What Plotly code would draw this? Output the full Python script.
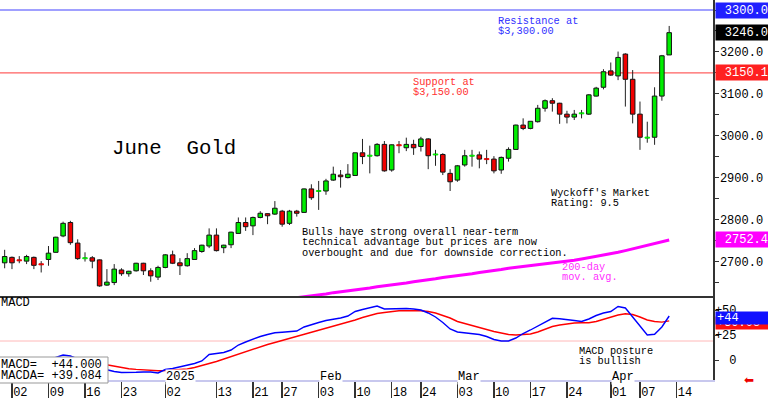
import plotly.graph_objects as go
import pandas as pd

W, H = 768, 399
FONT = "Liberation Mono"

# ---------------- data ----------------
holidays = ["2024-12-25", "2025-01-01", "2025-01-20", "2025-02-17"]
dates = [d.strftime("%Y-%m-%d") for d in pd.bdate_range("2024-11-29", "2025-04-11")
         if d.strftime("%Y-%m-%d") not in holidays]
next_session = "2025-04-14"

opens = [2698, 2711, 2705, 2702, 2711, 2695, 2706, 2723, 2762, 2794,
         2745, 2708, 2710, 2705, 2645, 2651, 2681, 2672, 2679, 2697,
         2679, 2664, 2687, 2717, 2698, 2691, 2706, 2725, 2738, 2764,
         2734, 2741, 2768, 2794, 2786, 2806, 2815, 2814, 2821, 2792,
         2821, 2818, 2874, 2868, 2869, 2895, 2907, 2901, 2906, 2960,
         2952, 2953, 2980, 2919, 2979, 2972, 2980, 2975, 2993, 2955,
         2956, 2911, 2895, 2931, 2952, 2955, 2946, 2945, 2919, 2947,
         2968, 3026, 3018, 3034, 3066, 3084, 3078, 3052, 3045, 3053,
         3052, 3095, 3116, 3155, 3143, 3195, 3135, 3052, 2995, 2997,
         3095, 3193]
highs = [2729, 2713, 2714, 2717, 2713, 2702, 2738, 2760, 2796, 2798,
         2754, 2723, 2714, 2706, 2683, 2695, 2685, 2679, 2698, 2698,
         2685, 2691, 2719, 2727, 2709, 2721, 2733, 2741, 2780, 2780,
         2741, 2772, 2806, 2806, 2808, 2821, 2816, 2845, 2824, 2824,
         2824, 2875, 2885, 2893, 2898, 2927, 2919, 2933, 2960, 2993,
         2977, 2983, 2988, 2980, 2988, 2996, 2991, 2998, 2995, 2967,
         2959, 2921, 2931, 2967, 2967, 2963, 2967, 2952, 2951, 2973,
         3027, 3042, 3035, 3074, 3087, 3090, 3079, 3060, 3062, 3062,
         3100, 3117, 3159, 3175, 3201, 3197, 3157, 3082, 3034, 3116,
         3193, 3262]
lows = [2685, 2683, 2697, 2695, 2683, 2675, 2691, 2722, 2759, 2741,
        2705, 2701, 2685, 2641, 2643, 2645, 2667, 2665, 2677, 2669,
        2653, 2657, 2685, 2695, 2669, 2689, 2705, 2722, 2733, 2725,
        2721, 2733, 2767, 2774, 2764, 2804, 2790, 2812, 2784, 2788,
        2808, 2817, 2848, 2824, 2860, 2893, 2877, 2899, 2905, 2933,
        2911, 2951, 2915, 2915, 2959, 2964, 2955, 2963, 2921, 2929,
        2907, 2869, 2891, 2927, 2927, 2923, 2933, 2911, 2910, 2939,
        2967, 3014, 3016, 3032, 3058, 3058, 3029, 3030, 3038, 3042,
        3050, 3094, 3111, 3143, 3133, 3070, 3030, 2967, 2984, 2979,
        3084, 3193]
closes = [2713, 2698, 2703, 2713, 2692, 2694, 2721, 2759, 2792, 2746,
          2708, 2710, 2702, 2643, 2652, 2683, 2672, 2678, 2697, 2679,
          2667, 2687, 2717, 2697, 2691, 2708, 2727, 2740, 2764, 2727,
          2740, 2771, 2794, 2784, 2806, 2816, 2810, 2828, 2790, 2821,
          2816, 2874, 2853, 2870, 2893, 2909, 2903, 2909, 2960, 2951,
          2954, 2980, 2917, 2979, 2977, 2980, 2972, 2993, 2953, 2957,
          2914, 2891, 2929, 2953, 2954, 2945, 2944, 2917, 2949, 2968,
          3026, 3018, 3035, 3066, 3084, 3078, 3052, 3045, 3052, 3055,
          3098, 3114, 3153, 3145, 3187, 3135, 3052, 2997, 2997, 3095,
          3191, 3246.0]

ma_first = 40  # 200-day average values from dates[40] onward
ma200 = [2615, 2617, 2620, 2622, 2624, 2627, 2629, 2631, 2634, 2636,
         2638, 2641, 2643, 2645, 2648, 2650, 2653, 2655, 2658, 2660,
         2663, 2665, 2668, 2670, 2672, 2675, 2677, 2680, 2682, 2685,
         2687, 2689, 2691, 2693, 2695, 2697, 2699, 2702, 2704, 2707,
         2710, 2713, 2716, 2719, 2723, 2727, 2731, 2735, 2739, 2743,
         2748, 2752.4]

macd = [-5, -3, -2, -1, -1, -2, 0, 2.5, 5, 4,
        1, -3, -6, -8, -10, -11.5, -12.5, -12.7, -12.3, -12,
        -12, -13, -9.5, -8.5, -7, -5.5, -3.5, -1, 5.5, 6.5,
        7.5, 10, 15, 18, 21, 23.5, 25.5, 27.3, 27.8, 28.2,
        29, 33, 35.5, 37.5, 39.5, 40.7, 42, 44, 48.5, 50.5,
        52.5, 54, 51, 51.3, 51.7, 51.5, 51, 50, 47, 43,
        37.5, 31, 28, 27, 26.3, 25.5, 23.5, 20.5, 19, 19,
        22, 26.5, 30, 34, 38.5, 41.7, 41.2, 40.7, 39.5, 38.5,
        41, 44.5, 47, 48.5, 53.5, 52, 43, 34, 25, 25.7,
        33, 44.0]
signal = [-3, -3, -3, -2.5, -2, -2, -1.5, -1, 0, 0.5,
          0.5, -0.5, -2, -3.5, -5, -6.5, -8, -8.8, -9.4, -9.9,
          -10.3, -10.7, -10.5, -10, -9.5, -9, -7.5, -5.8, -3.5, -1.5,
          1, 3, 5.5, 8, 10.5, 13, 15.5, 17.5, 19.5, 21.5,
          24, 26, 28, 30, 32, 34, 36, 38, 40, 42.5,
          44.5, 46.5, 47.5, 48.5, 49.2, 49.4, 49.4, 49.3, 48.5, 47,
          44.5, 42, 38.5, 36.5, 34.5, 32, 30, 28.5, 27, 25.5,
          25, 25.2, 26, 28, 31, 33.5, 35, 36.3, 37, 37.2,
          37.3, 38.5, 40.5, 42.5, 45, 46.2, 45.5, 43, 40, 38.5,
          37.9, 39.084]
macd_ref = 19

resistance = 3300.0
support = 3150.1

tick_dates = ["2024-12-02", "2024-12-09", "2024-12-16", "2024-12-23", "2025-01-02",
              "2025-01-13", "2025-01-21", "2025-01-27", "2025-02-03", "2025-02-10",
              "2025-02-18", "2025-02-24", "2025-03-03", "2025-03-10", "2025-03-17",
              "2025-03-24", "2025-04-01", "2025-04-07", "2025-04-14"]
tick_labels = [d[-2:] for d in tick_dates]
month_dates = ["2025-01-02", "2025-02-03", "2025-03-03", "2025-04-01"]
month_labels = ["2025", "Feb", "Mar", "Apr"]
price_ticks = list(range(2650, 3301, 50))

# ---------------- helpers ----------------
calendar = dates + [next_session]
pos = {d: i for i, d in enumerate(calendar)}
idx = list(range(len(dates)))


def px(x):
    return x / W


def py(y):
    return 1 - y / H


GREEN, RED = "#00ee00", "#f00000"
XR = [-0.64, 97.0]

body_base, body_h, fills, edges = [], [], [], []
wx, wy = [], []
for i, (o, h, l, c) in enumerate(zip(opens, highs, lows, closes)):
    col = GREEN if c >= o else RED
    lo, hi = min(o, c), max(o, c)
    if hi - lo < 3:
        mid = (o + c) / 2
        lo, hi = mid - 1.2, mid + 1.2
        edges.append(col)
    else:
        edges.append("#111111")
    body_base.append(lo)
    body_h.append(hi - lo)
    fills.append(col)
    if h > hi:
        wx += [i, i, None]
        wy += [hi, h, None]
    if l < lo:
        wx += [i, i, None]
        wy += [l, lo, None]

fig = go.Figure()
fig.add_trace(go.Scatter(x=wx, y=wy, mode="lines", line=dict(color="#222222", width=1),
                         hoverinfo="skip", xaxis="x", yaxis="y"))
fig.add_trace(go.Bar(x=idx, y=body_h, base=body_base, width=0.62,
                     marker=dict(color=fills, line=dict(color=edges, width=1)),
                     xaxis="x", yaxis="y"))
fig.add_trace(go.Scatter(x=idx[ma_first:], y=ma200, mode="lines",
                         line=dict(color="#ff00ff", width=3), xaxis="x", yaxis="y"))
fig.add_trace(go.Scatter(x=idx, y=signal, mode="lines", line=dict(color="#ff0000", width=1.4),
                         xaxis="x2", yaxis="y2"))
fig.add_trace(go.Scatter(x=idx, y=macd, mode="lines", line=dict(color="#0000ff", width=1.4),
                         xaxis="x2", yaxis="y2"))

sep_pos = [pos[d] for d in tick_dates]
label_pos = [p + 1.15 for p in sep_pos]

shapes = [
    dict(type="line", xref="paper", yref="y", x0=0, x1=px(713), y0=resistance, y1=resistance,
         line=dict(color="#8080ff", width=1.5), layer="below"),
    dict(type="line", xref="paper", yref="y", x0=0, x1=px(713), y0=support, y1=support,
         line=dict(color="#ff6060", width=1.2), layer="below"),
    dict(type="line", xref="paper", yref="y2", x0=0, x1=px(713), y0=macd_ref, y1=macd_ref,
         line=dict(color="#ffb8b8", width=1), layer="below"),
    dict(type="rect", xref="paper", yref="paper", x0=-0.01, x1=px(108), y0=py(383), y1=py(357),
         fillcolor="white", line=dict(color="#999999", width=1), layer="above"),
]

ann = []


def text(s, x, y, size=10.3, color="black", anchor="left", **kw):
    ann.append(dict(text=s, x=px(x), y=py(y), xref="paper", yref="paper", xanchor=anchor,
                    yanchor="middle", showarrow=False,
                    font=dict(family=FONT, size=size, color=color), **kw))


NB = "\u00a0"
text("June" + NB * 2 + "Gold", 110, 148, size=20.7)
text("Resistance at", 496, 21, color="#3030ff")
text("$3,300.00", 496, 31.3, color="#3030ff")
text("Support at", 411, 81.7, color="#ff3030")
text("$3,150.00", 411, 91.7, color="#ff3030")
text("Wyckoff's Market", 549, 193.3)
text("Rating: 9.5", 549, 203.3)
for k, line in enumerate(["Bulls have strong overall near-term",
                          "technical advantage but prices are now",
                          "overbought and due for downside correction."]):
    text(line, 300, 231.7 + k * 10.5)
text("200-day", 560, 266.7, color="#ff30ff")
text("mov. avg.", 560, 276.7, color="#ff30ff")
text("MACD", -1, 303, size=12)
text("MACD posture", 577, 350.7)
text("is bullish", 577, 360.7)
text("MACD=" + NB * 2 + f"{macd[-1]:+.3f}", -1, 364.5, size=12)
text("MACDA=" + NB + f"{signal[-1]:+.3f}", -1, 375.5, size=12)
ann.append(dict(text="\u2b05", x=px(756), y=py(389), xref="paper", yref="paper",
                showarrow=False, font=dict(family="DejaVu Sans", size=12, color="#ee0000")))

for d, lab in zip(month_dates, month_labels):
    ann.append(dict(text=lab, x=pos[d], y=py(377), xref="x2", yref="paper", xanchor="left",
                    yanchor="middle", showarrow=False, bgcolor="white", borderpad=0,
                    font=dict(family=FONT, size=12, color="black")))


def tag(s, yval, yref, bg, align="right", h=13):
    ann.append(dict(text=s, x=px(715), y=yval, xref="paper", yref=yref, xanchor="left",
                    yanchor="middle", showarrow=False, bgcolor=bg, width=51, height=h,
                    align=align, borderpad=1,
                    font=dict(family=FONT, size=12, color="white")))


tag(f"{resistance:.1f}", resistance, "y", "#2020ff")
tag(f"{closes[-1]:.1f}", closes[-1], "y", "#000000")
tag(f"{support:.1f}", support, "y", "#ff2020")
tag(f"{ma200[-1]:.1f}", ma200[-1], "y", "#ff00ff")
tag(f"{signal[-1]:+.2f}", 37, "y2", "#ff1010", align="left", h=10)
tag(f"{macd[-1]:+.0f}", 42.5, "y2", "#1010ff", align="left", h=10)

price_text = [f"{v:.1f}" if (v % 100 == 0 and v < 3300) else "" for v in price_ticks]

fig.update_layout(
    width=W, height=H, margin=dict(l=0, r=0, t=0, b=0),
    paper_bgcolor="white", plot_bgcolor="white", showlegend=False,
    xaxis=dict(domain=[0, px(713)], range=XR, anchor="y", showticklabels=False, ticks="",
               showgrid=False, zeroline=False, showline=True, linecolor="#333333", linewidth=2),
    yaxis=dict(domain=[py(296), 1], range=[2619, 3323.8], side="right", anchor="x",
               showgrid=False, zeroline=False, showline=True, linecolor="#333333", linewidth=1.5,
               ticks="outside", ticklen=4, tickcolor="#333333", tickvals=price_ticks,
               ticktext=price_text, ticklabelstandoff=-1,
               tickfont=dict(family=FONT, size=12, color="black")),
    xaxis2=dict(domain=[0, px(713)], range=XR, anchor="y2", showgrid=False, zeroline=False,
                showline=True, linecolor="#c8c8ee", linewidth=2, tickvals=label_pos,
                ticktext=tick_labels, ticks="", tickfont=dict(family=FONT, size=12, color="black"),
                minor=dict(tickvals=sep_pos, ticks="outside", ticklen=16, tickcolor="#333333",
                           tickwidth=1.5)),
    yaxis2=dict(domain=[py(380), py(297)], range=[-20, 63], side="right", anchor="x2",
                showgrid=False, zeroline=False, showline=True, linecolor="#333333", linewidth=1.5,
                ticks="outside", ticklen=4, tickcolor="#333333", tickvals=[0, 25, 50],
                ticktext=[NB * 2 + "0", "+25", "+50"], ticklabelstandoff=-6,
                tickfont=dict(family=FONT, size=12, color="black")),
    shapes=shapes, annotations=ann, bargap=0,
)

fig.write_html("out.html", config={"displayModeBar": False, "staticPlot": True},
               post_script="document.body.style.margin='0px';document.body.style.overflow='hidden';")
